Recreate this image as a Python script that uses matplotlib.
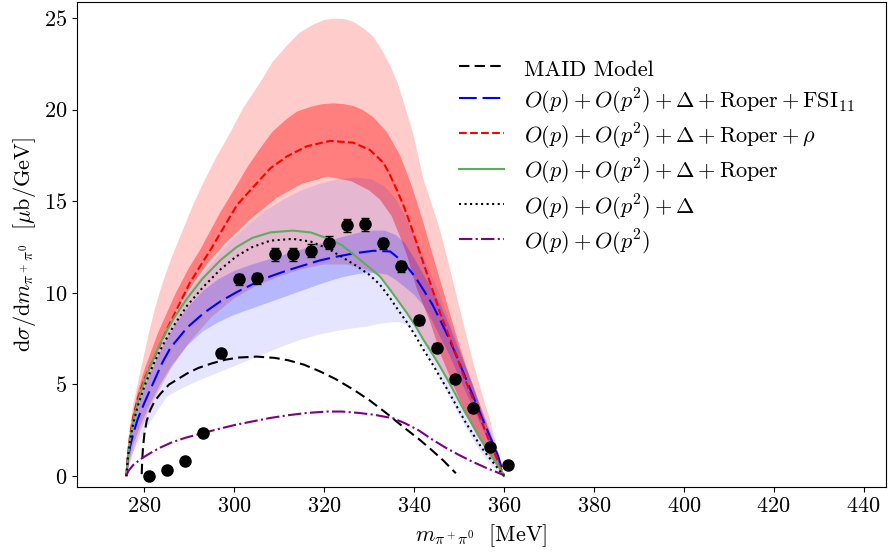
import numpy as np
import matplotlib
matplotlib.use('Agg')
import matplotlib.pyplot as plt

plt.rcParams['font.family'] = 'serif'
plt.rcParams['font.serif'] = ['cmr10']
plt.rcParams['mathtext.fontset'] = 'cm'
plt.rcParams['axes.formatter.use_mathtext'] = True
plt.rcParams['font.size'] = 16

# 实验数据点
m_data = [281, 285, 289, 293, 297, 301, 305, 309, 313, 317, 321,
          325, 329, 333, 337, 341, 345, 349, 353, 357, 361]
xs_data = [0.0, 0.33, 0.8, 2.35, 6.7, 10.75, 10.8, 12.1, 12.1, 12.3, 12.75,
           13.7, 13.75, 12.7, 11.45, 8.5, 7.0, 5.3, 3.7, 1.6, 0.6]
err_data = [0.15, 0.15, 0.2, 0.2, 0.25, 0.3, 0.3, 0.35, 0.35, 0.35, 0.35,
            0.35, 0.35, 0.3, 0.3, 0.25, 0.25, 0.2, 0.2, 0.15, 0.15]

# MAID
m_maid = [279.4, 279.5, 279.7, 280.0, 280.5, 281.3, 282.3, 283.6, 285.5, 287.5,
          289.5, 292, 295, 298, 301, 305, 309, 312, 315.5, 319, 322.5, 326.5,
          330, 333.9, 337.5, 341.3, 344, 346.5, 348.7, 349.3]
xs_maid = [0.1, 0.8, 1.6, 2.3, 3.0, 3.6, 4.1, 4.5, 5.0, 5.3,
           5.6, 5.9, 6.15, 6.35, 6.47, 6.52, 6.45, 6.32, 6.08, 5.72, 5.3, 4.72,
           4.15, 3.42, 2.7, 1.97, 1.4, 0.85, 0.3, 0.15]

# O(p)+O(p^2)+Delta+Roper+FSI11 (蓝) 及误差带
m_fsi = [276, 276.3, 276.8, 277.5, 278.5, 280, 282, 284, 285.8, 289.5, 293.2,
         297, 300.6, 304.3, 308, 311.7, 315.4, 319, 322.8, 326.9, 331, 334.7,
         336.5, 338.4, 340.3, 342.1, 344, 345.8, 347.7, 349.5, 351.3, 353.2,
         355, 356.9, 358.7, 360]
xs_fsi = [0, 0.9, 1.6, 2.3, 3.1, 4.0, 5.1, 6.2, 7.0, 8.1, 8.9,
          9.55, 10.05, 10.5, 10.9, 11.22, 11.5, 11.77, 11.98, 12.17, 12.3, 12.26,
          11.9, 11.44, 10.85, 10.16, 9.4, 8.52, 7.55, 6.52, 5.45, 4.33,
          3.25, 2.15, 1.1, 0]
m_fsi_hi1 = [276, 276.4, 277, 278, 279.5, 281.5, 284, 287, 290, 293, 296.5,
             300, 304, 308, 312, 316, 320, 324, 328, 331, 333.5, 336, 338,
             340, 342.1, 344, 345.8, 347.7, 349.5, 351.3, 353.2, 355, 356.9,
             358.5, 360]
xs_fsi_hi1 = [0, 1.2, 2.2, 3.3, 4.5, 5.7, 7.0, 8.3, 9.3, 10.1, 10.75,
              11.2, 11.55, 11.85, 12.15, 12.45, 12.75, 13.05, 13.3, 13.4, 13.4, 13.15, 12.7,
              11.9, 11.0, 10.2, 9.4, 8.3, 7.2, 6.1, 4.9, 3.7, 2.5,
              1.3, 0]
m_fsi_lo1 = [276, 276.6, 277.5, 279, 281, 283.5, 286, 289.5, 293, 296.5, 300,
             304, 308, 312, 316, 320, 324, 328, 331, 334, 336, 338, 340,
             342.1, 344, 345.8, 347.7, 349.5, 351.3, 353.2, 355, 356.9, 358.5, 360]
xs_fsi_lo1 = [0, 0.8, 1.7, 2.7, 3.8, 5.0, 6.0, 7.1, 7.9, 8.4, 8.8,
              9.15, 9.5, 9.85, 10.2, 10.55, 10.85, 11.05, 11.1, 11.0, 10.7, 10.3, 9.9,
              9.3, 8.5, 7.6, 6.7, 5.7, 4.7, 3.7, 2.7, 1.75, 0.9, 0]
m_fsi_hi2 = [276, 276.5, 277.2, 278.2, 279.5, 281, 283, 285.5, 288, 291, 294.5,
             299.1, 303, 307, 311, 315, 319, 323, 327, 330.5, 333.5, 336, 338,
             340, 342, 344, 346, 348, 350, 352, 354, 356, 358, 360]
xs_fsi_hi2 = [0, 1.3, 2.4, 3.5, 4.6, 5.7, 6.9, 8.2, 9.3, 10.4, 11.5,
              12.8, 13.7, 14.5, 15.1, 15.6, 15.95, 16.2, 16.3, 16.2, 15.8, 15.1, 14.2,
              13.1, 12.0, 10.9, 9.7, 8.4, 7.0, 5.6, 4.2, 2.8, 1.4, 0]
m_fsi_lo2 = [276, 276.5, 277.6, 279.5, 281.5, 285, 288.5, 292, 296, 299.8, 303.5,
             307, 311, 314.7, 318.5, 322, 326, 329.5, 332, 334.5, 336.5, 338,
             339.5, 341, 342.5, 344.5, 346.5, 348.5, 351, 354, 357, 360]
xs_fsi_lo2 = [0, 0.6, 1.4, 2.2, 3.0, 4.33, 4.8, 5.2, 5.6, 5.97, 6.35,
              6.7, 7.1, 7.43, 7.7, 7.88, 8.05, 8.16, 8.3, 8.38, 8.4, 8.3,
              8.0, 7.5, 6.9, 6.0, 5.0, 4.0, 2.9, 1.6, 0.6, 0]

# O(p)+O(p^2)+Delta+Roper+rho (红) 及误差带
m_rho = [276, 276.3, 276.8, 277.5, 278.5, 280, 281.5, 283, 285, 287, 290,
         292.5, 294.7, 297.7, 300.6, 304.3, 308, 311.7, 316.1, 321.3, 326.5,
         330.2, 333.2, 334.7, 336.2, 337.6, 339.1, 340.6, 342.1, 344, 345.8,
         347.7, 349.5, 351.3, 353.2, 355, 356.9, 358.5, 360]
xs_rho = [0, 1.1, 2.2, 3.2, 4.2, 5.3, 6.1, 6.9, 8.0, 9.0, 10.5,
          11.5, 12.35, 13.6, 14.8, 15.8, 16.8, 17.45, 18.0, 18.3, 18.2,
          17.8, 17.1, 16.4, 15.6, 14.8, 13.8, 12.7, 11.6, 10.25, 8.9,
          7.7, 6.52, 5.3, 4.15, 3.0, 1.8, 0.9, 0]
m_rho_hi1 = [276, 276.3, 276.8, 277.5, 278.5, 280, 281.5, 283, 285, 287, 290,
             292.4, 294.7, 296.9, 300.6, 303, 305.8, 308.5, 311.7, 314, 316.9,
             319.5, 322.1, 324.5, 326.5, 328.5, 330.9, 333.9, 336.9, 339.1,
             340.6, 342.1, 344, 345.8, 347.7, 349.5, 351.3, 353.2, 355, 356.9,
             358.5, 360]
xs_rho_hi1 = [0, 1.2, 2.4, 3.5, 4.6, 5.8, 6.8, 7.8, 8.9, 10.0, 11.4,
              12.35, 13.4, 14.4, 15.9, 16.9, 17.9, 18.8, 19.5, 19.9, 20.15,
              20.3, 20.35, 20.3, 20.2, 20.0, 19.6, 18.8, 17.5, 16.1,
              15.0, 13.8, 12.2, 10.7, 9.1, 7.6, 6.2, 4.9, 3.6, 2.33,
              1.2, 0]
m_rho_lo1 = [276, 276.4, 277, 278, 279.5, 281.5, 284, 287, 290, 294, 298,
             303.5, 309.5, 315, 320.7, 326, 330, 332.4, 335, 337, 338.5,
             340.5, 343.6, 346, 348.7, 351.5, 354, 357, 360]
xs_rho_lo1 = [0, 1.1, 2.2, 3.4, 4.6, 6.0, 7.5, 9.0, 10.2, 11.6, 12.7,
              14.0, 15.2, 15.95, 16.35, 16.1, 15.6, 15.1, 14.2, 13.0, 12.0,
              10.3, 8.4, 6.6, 5.0, 3.4, 2.2, 1.0, 0]
m_rho_hi2 = [276, 276.3, 276.8, 277.5, 278.7, 280, 281.2, 282.4, 284, 286, 288.5,
             291, 293.5, 296, 299.1, 302, 305.8, 308.5, 311.7, 314.5, 317.6,
             320, 322.1, 324.5, 326.5, 329, 330.9, 333, 334.7, 336.3, 337.6,
             339.8, 342.1, 344, 345.8, 347.7, 349.5, 351.3, 353.2, 355, 356.9,
             358.5, 360]
xs_rho_hi2 = [0, 1.5, 2.8, 3.9, 5.25, 6.7, 8.0, 9.2, 10.5, 11.9, 13.4,
              14.9, 16.2, 17.4, 18.75, 20.1, 21.5, 22.6, 23.5, 24.2, 24.65,
              24.9, 24.97, 24.95, 24.8, 24.4, 24.0, 23.2, 22.4, 21.5, 20.5,
              18.7, 16.2, 14.8, 13.4, 11.6, 9.8, 8.0, 6.16, 4.6, 3.06,
              1.5, 0]
m_rho_lo2 = [276, 277, 279, 282, 286, 290, 295, 300, 305, 310, 315,
             320, 325, 329, 332.4, 334.7, 336.5, 338.4, 340.3, 342.1, 344,
             345.8, 347.7, 349.5, 351.3, 353.2, 355, 356.9, 358.7, 360]
xs_rho_lo2 = [0, 0.9, 2.4, 4.1, 5.9, 7.3, 8.7, 9.7, 10.4, 10.9, 11.3,
              11.55, 11.55, 11.3, 10.9, 10.16, 9.55, 8.9, 8.2, 7.43, 6.7,
              5.97, 5.15, 4.33, 3.5, 2.7, 1.95, 1.24, 0.6, 0]

# O(p)+O(p^2)+Delta+Roper (绿)
m_rop = [276, 276.3, 276.8, 277.5, 278.5, 280, 282, 284, 286.5, 289.5, 293,
         297, 300.5, 304, 308, 313, 317, 321, 324, 327, 330, 332.4, 334.7,
         336.5, 338.4, 340.3, 342.1, 344, 345.8, 347.7, 349.5, 351.3, 353.2,
         355, 356.9, 358.7, 360]
xs_rop = [0, 1.0, 2.0, 3.0, 4.0, 5.2, 6.4, 7.5, 8.6, 9.7, 10.8,
          11.8, 12.5, 13.0, 13.3, 13.4, 13.3, 12.95, 12.6, 12.0, 11.4, 10.9, 10.16,
          9.55, 8.9, 8.2, 7.43, 6.7, 5.97, 5.15, 4.33, 3.5, 2.7,
          1.95, 1.24, 0.6, 0]

# O(p)+O(p^2)+Delta (黑点线)
m_del = [276, 276.3, 276.8, 277.5, 278.5, 280, 282, 284, 286.5, 289.5, 293,
         297, 300.5, 304, 308, 313, 317, 321, 324, 327, 330, 332.4, 334.7,
         336.5, 338.4, 340.3, 342.1, 344, 345.8, 347.7, 349.5, 351.3, 353.2,
         355, 356.9, 358.7, 360]
xs_del = [0, 0.95, 1.9, 2.85, 3.8, 4.9, 6.1, 7.1, 8.2, 9.3, 10.3,
          11.3, 12.0, 12.5, 12.85, 12.95, 12.8, 12.4, 11.95, 11.5, 11.0, 10.45, 9.7,
          9.05, 8.4, 7.65, 6.9, 6.15, 5.4, 4.6, 3.8, 3.0, 2.25,
          1.55, 0.95, 0.4, 0]

# O(p)+O(p^2) (紫)
m_op = [276, 276.5, 277.5, 279.5, 281.5, 283.5, 286, 289, 292.8, 296.5, 300,
        304, 308, 312, 316, 320.6, 324, 327.5, 331, 335.4, 338, 341, 344,
        347, 350, 353, 356, 358, 360]
xs_op = [0.05, 0.3, 0.6, 0.98, 1.28, 1.55, 1.83, 2.08, 2.33, 2.57, 2.78,
         2.98, 3.17, 3.32, 3.44, 3.52, 3.52, 3.45, 3.35, 3.15, 2.88, 2.5, 2.0,
         1.55, 1.15, 0.78, 0.45, 0.25, 0.05]


def band(ax, xh, yh, xl, yl, color, alpha):
    ax.fill(np.r_[xh, xl[::-1]], np.r_[yh, yl[::-1]], color=color, alpha=alpha, lw=0)


fig = plt.figure(figsize=(8.9, 5.55), dpi=100)
ax = fig.add_axes([0.0865, 0.1225, 0.909, 0.8745])

band(ax, m_rho_hi2, xs_rho_hi2, m_rho_lo2, xs_rho_lo2, 'red', 0.2)
band(ax, m_rho_hi1, xs_rho_hi1, m_rho_lo1, xs_rho_lo1, 'red', 0.38)
band(ax, m_fsi_hi2, xs_fsi_hi2, m_fsi_lo2, xs_fsi_lo2, 'blue', 0.1)
band(ax, m_fsi_hi1, xs_fsi_hi1, m_fsi_lo1, xs_fsi_lo1, 'blue', 0.2)

ax.plot(m_maid, xs_maid, color='black', lw=1.5, dashes=(5, 2.5), label='MAID Model')
ax.plot(m_fsi, xs_fsi, color='blue', lw=1.5, dashes=(8.5, 2.8),
        label=r'$O(p)+O(p^2)+\Delta+\mathrm{Roper}+\mathrm{FSI}_{11}$')
ax.plot(m_rho, xs_rho, color='red', lw=1.5, ls='--',
        label=r'$O(p)+O(p^2)+\Delta+\mathrm{Roper}+\rho$')
ax.plot(m_rop, xs_rop, color='#5cae5c', lw=1.5, ls='-',
        label=r'$O(p)+O(p^2)+\Delta+\mathrm{Roper}$')
ax.plot(m_del, xs_del, color='black', lw=1.5, ls=':',
        label=r'$O(p)+O(p^2)+\Delta$')
ax.plot(m_op, xs_op, color='purple', lw=1.5, ls='-.',
        label=r'$O(p)+O(p^2)$')

ax.errorbar(m_data, xs_data, yerr=err_data, fmt='o', color='black', ms=8,
            capsize=3, elinewidth=1.2, zorder=5)

ax.set_xlim(265, 445)
ax.set_ylim(-0.6, 25.9)
ax.set_xticks(np.arange(280, 441, 20))
ax.set_yticks(np.arange(0, 26, 5))
ax.set_xlabel(r'$m_{\pi^+\pi^0}\ \ [\mathrm{MeV}]$')
ax.set_ylabel(r'$\mathrm{d}\sigma/\mathrm{d}m_{\pi^+\pi^0}\ \ [\mu\mathrm{b/GeV}]$')

ax.legend(loc='upper left', bbox_to_anchor=(0.4725, 0.889), frameon=False,
          handlelength=2.0, handleheight=1.4, handletextpad=0.9, labelspacing=0.24,
          borderaxespad=0, borderpad=0)

fig.savefig('out.png', dpi=100)
